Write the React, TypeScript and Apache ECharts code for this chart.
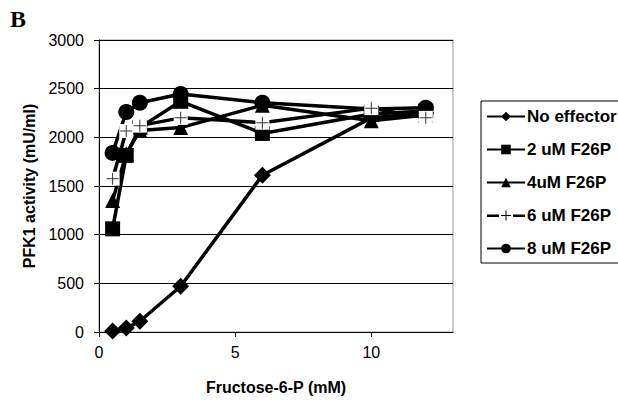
import React, { useEffect, useRef } from "react";
import * as echarts from "echarts";

const fructose = [0.5, 1, 1.5, 3, 6, 10, 12];
const noEffector = [10, 40, 110, 470, 1610, 2200, 2250];
const f26p2 = [1060, 1815, 2100, 2370, 2040, 2240, 2270];
const f26p4 = [1350, 1830, 2070, 2100, 2330, 2170, 2230];
const f26p6 = [1575, 2065, 2120, 2200, 2150, 2300, 2200];
const f26p8 = [1840, 2260, 2355, 2445, 2355, 2290, 2305];
const yTicks = [0, 500, 1000, 1500, 2000, 2500, 3000];
const xTicks = [0, 5, 10];

const seriesNames = ["No effector", "2 uM F26P", "4uM F26P", "6 uM F26P", "8 uM F26P"];

const pair = (vals: number[]) => fructose.map((x, i) => [x, vals[i]]);

const PLUS = "path://M5.5,0 h1 v12 h-1 z M0,5.5 h12 v1 h-12 z";
const LEGEND_PLUS =
  "path://M0,5 h12 v2.5 h-12 z M18.5,1 h1 v10 h-1 z M14,5.5 h10 v1 h-10 z M26,5 h12 v2.5 h-12 z";

export default function App() {
  const ref = useRef<HTMLDivElement>(null);
  useEffect(() => {
    if (!ref.current) return;
    const chart = echarts.init(ref.current, null, { renderer: "svg" });
    const line = { type: "solid", color: "#000", width: 3.5 };
    const base = {
      type: "line",
      color: "#000",
      lineStyle: line,
      itemStyle: { color: "#000" },
      showAllSymbol: true,
    };
    chart.setOption({
      animation: false,
      backgroundColor: "#fff",
      textStyle: { fontFamily: "Liberation Sans, Arial, sans-serif", color: "#000" },
      grid: {
        left: 99,
        right: 165,
        top: 40,
        bottom: 76,
        show: true,
        borderColor: "#999",
        borderWidth: 1,
        backgroundColor: "transparent",
      },
      graphic: [
        {
          type: "text",
          left: 10,
          top: 7,
          style: {
            text: "B",
            font: "bold 24px 'Liberation Serif', 'Times New Roman', serif",
            fill: "#000",
          },
        },
      ],
      legend: {
        orient: "vertical",
        left: 481,
        top: 101,
        padding: [7, 4, 6, 5],
        itemGap: 16,
        itemWidth: 38,
        itemHeight: 12,
        itemStyle: { color: "#000" },
        borderColor: "#000",
        borderWidth: 1,
        borderRadius: 0,
        textStyle: {
          fontFamily: "Liberation Sans, Arial, sans-serif",
          fontWeight: "bold",
          fontSize: 17,
          color: "#000",
          padding: [0, 0, 0, -3],
        },
        data: [
          { name: seriesNames[0] },
          { name: seriesNames[1] },
          { name: seriesNames[2] },
          { name: seriesNames[3], icon: LEGEND_PLUS, itemStyle: { color: "#000" } },
          { name: seriesNames[4] },
        ],
      },
      xAxis: {
        type: "value",
        min: 0,
        max: 13,
        interval: 5,
        name: "Fructose-6-P (mM)",
        nameLocation: "middle",
        nameGap: 47,
        nameTextStyle: { fontWeight: "bold", fontSize: 16, color: "#000" },
        axisLine: { lineStyle: { color: "#000", width: 1 } },
        axisTick: { show: true, length: 5, lineStyle: { color: "#000" } },
        axisLabel: {
          fontSize: 16,
          color: "#000",
          margin: 12,
          showMaxLabel: false,
          formatter: (v: number) => (xTicks.includes(v) ? String(v) : ""),
        },
        splitLine: { show: false },
      },
      yAxis: {
        type: "value",
        min: yTicks[0],
        max: yTicks[yTicks.length - 1],
        interval: 500,
        name: "PFK1 activity (mU/ml)",
        nameLocation: "middle",
        nameGap: 60,
        nameTextStyle: { fontWeight: "bold", fontSize: 16, color: "#000" },
        axisLine: { show: true, lineStyle: { color: "#000", width: 1 } },
        axisTick: { show: true, length: 5, lineStyle: { color: "#000" } },
        axisLabel: {
          fontSize: 16,
          color: "#000",
          margin: 15,
          formatter: (v: number) => (yTicks.includes(v) ? String(v) : ""),
        },
        splitLine: { show: true, lineStyle: { color: "#000", width: 1 } },
      },
      series: [
        { ...base, name: seriesNames[0], data: pair(noEffector), symbol: "diamond", symbolSize: 17, z: 5 },
        { ...base, name: seriesNames[1], data: pair(f26p2), symbol: "rect", symbolSize: 15, z: 4 },
        { ...base, name: seriesNames[2], data: pair(f26p4), symbol: "triangle", symbolSize: 15, z: 3 },
        {
          ...base,
          name: seriesNames[3],
          data: pair(f26p6),
          symbol: "rect",
          symbolSize: 14,
          itemStyle: { color: "#fff" },
          z: 6,
        },
        {
          type: "scatter",
          name: "6 uM plus",
          data: pair(f26p6),
          symbol: PLUS,
          symbolSize: 12,
          itemStyle: { color: "#000" },
          z: 7,
        },
        { ...base, name: seriesNames[4], data: pair(f26p8), symbol: "circle", symbolSize: 16, z: 2 },
      ],
    });
    return () => chart.dispose();
  }, []);
  return (
    <div
      ref={ref}
      style={{ position: "fixed", left: 0, top: 0, width: 618, height: 408, background: "#fff" }}
    />
  );
}
